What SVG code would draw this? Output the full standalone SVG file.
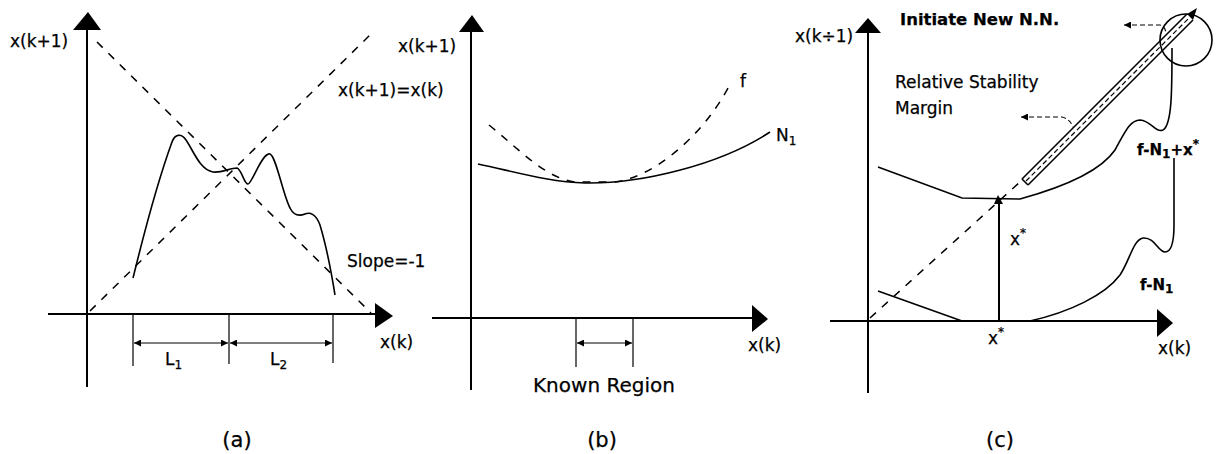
<svg xmlns="http://www.w3.org/2000/svg" width="1217" height="454" viewBox="0 0 1217 454">
<style>
text{font-family:"DejaVu Sans","Liberation Sans",sans-serif;font-size:17px;fill:#000;stroke:#000;stroke-width:0.25}
.ax{stroke:#000;stroke-width:2;fill:none}
.ln{stroke:#000;stroke-width:1.6;fill:none}
.th{stroke:#000;stroke-width:1.2;fill:none}
.ds{stroke:#000;stroke-width:1.5;fill:none;stroke-dasharray:8 8}
.ld{stroke:#000;stroke-width:1.2;fill:none;stroke-dasharray:5 3}
.hd{fill:#000;stroke:none}
.b{font-weight:bold}
.sub{font-size:12px}
.cap{font-size:21px}
</style>
<defs>
<marker id="ah" viewBox="0 0 10 10" refX="10" refY="5" markerWidth="7" markerHeight="7" orient="auto-start-reverse" markerUnits="userSpaceOnUse">
<path d="M0,0 L10,5 L0,10 z" fill="#000"/>
</marker>
</defs>
<rect width="1217" height="454" fill="#fff"/>

<!-- Panel (a) -->
<g id="panel-a">
<g id="a-axes">
<line class="ax" x1="87" y1="28" x2="87" y2="387"/>
<polygon class="hd" points="73,30 88,12 101,30"/>
<line class="ax" x1="48" y1="314" x2="376" y2="314"/>
<polygon class="hd" points="375,303 393,316 375,328"/>
</g>
<g id="a-lines">
<line class="ds" x1="90" y1="311" x2="372" y2="33"/>
<line class="ds" x1="97" y1="42" x2="371" y2="313"/>
<path class="ln" d="M133,278 L137,262 C145,230 160,175 172,142 C175,134 181,133 186,140 C193,150 200,170 213,172 C222,173 230,168 237,168 C242,170 244,184 248,184 C252,184 262,152 270,154 C276,156 283,195 290,208 C294,216 300,216 305,214 C310,212 316,214 320,225 C326,245 331,270 335,295"/>
</g>
<g id="a-dims">
<line class="th" x1="133" y1="314" x2="133" y2="366"/>
<line class="th" x1="229" y1="314" x2="229" y2="364"/>
<line class="th" x1="333" y1="314" x2="333" y2="363"/>
<line class="th" x1="134" y1="343" x2="228" y2="343" marker-start="url(#ah)" marker-end="url(#ah)"/>
<line class="th" x1="230" y1="343" x2="332" y2="343" marker-start="url(#ah)" marker-end="url(#ah)"/>
</g>
<g id="a-labels">
<text x="10" y="47">x(k+1)</text>
<text x="338" y="96">x(k+1)=x(k)</text>
<text x="347" y="267">Slope=-1</text>
<text x="380" y="348">x(k)</text>
<text x="165" y="365">L<tspan class="sub" dy="4">1</tspan></text>
<text x="270" y="365">L<tspan class="sub" dy="4">2</tspan></text>
<text x="237" y="447" text-anchor="middle" class="cap">(a)</text>
</g>
</g>

<!-- Panel (b) -->
<g id="panel-b">
<g id="b-axes">
<line class="ax" x1="471" y1="30" x2="471" y2="390"/>
<polygon class="hd" points="459,32 472,15 484,32"/>
<line class="ax" x1="432" y1="318" x2="754" y2="318"/>
<polygon class="hd" points="752,305 768,319 752,332"/>
</g>
<g id="b-curves">
<path class="ds" d="M489,125 C520,150 545,178 575,182 L615,182 C650,178 700,140 728,88"/>
<path class="ln" d="M478,164 C520,173 550,182 585,183 C640,184 720,165 770,132"/>
</g>
<g id="b-dims">
<line class="th" x1="576" y1="318" x2="576" y2="367"/>
<line class="th" x1="633" y1="318" x2="633" y2="367"/>
<line class="th" x1="577" y1="343" x2="632" y2="343" marker-start="url(#ah)" marker-end="url(#ah)"/>
</g>
<g id="b-labels">
<text x="398" y="52">x(k+1)</text>
<text x="740" y="87">f</text>
<text x="776" y="141">N<tspan class="sub" dy="4">1</tspan></text>
<text x="748" y="351">x(k)</text>
<text x="533" y="392" style="font-size:20px">Known Region</text>
<text x="602" y="447" text-anchor="middle" class="cap">(b)</text>
</g>
</g>

<!-- Panel (c) -->
<g id="panel-c">
<g id="c-axes">
<line class="ax" x1="868" y1="31" x2="868" y2="393"/>
<polygon class="hd" points="855,33 868,18 881,33"/>
<line class="ax" x1="830" y1="321" x2="1159" y2="321"/>
<polygon class="hd" points="1157,309 1173,323 1157,337"/>
</g>
<g id="c-lines">
<line class="ds" x1="870" y1="318" x2="1020" y2="182"/>
<path class="ln" d="M878,167 L962,198 L1020,199 C1060,188 1100,172 1115,150 C1125,132 1130,120 1140,120 C1152,121 1155,133 1163,130 C1172,125 1172,90 1172,48"/>
<path class="ln" d="M878,291 L962,321"/>
<path class="ln" d="M1030,321 C1070,312 1105,295 1120,275 C1130,260 1133,240 1143,238 C1155,237 1158,252 1165,252 C1172,252 1174,240 1174,225 L1174,158"/>
<line class="ax" x1="999" y1="203" x2="999" y2="321"/>
<polygon class="hd" points="994,204 998,195 1003,204"/>
</g>
<g id="c-band">
<line class="ln" x1="1022" y1="179" x2="1187" y2="14"/>
<line class="ln" x1="1028" y1="185" x2="1193" y2="20"/>
<line class="ln" x1="1022" y1="179" x2="1028" y2="185"/>
<line class="ld" x1="1026" y1="181" x2="1190" y2="17" stroke="#999"/>
<polygon class="hd" points="1187,14 1197,8 1193,20"/>
<circle class="ln" cx="1186" cy="40" r="26"/>
</g>
<g id="c-leaders">
<path class="ld" d="M1124,25 L1160,25 Q1165,26 1166,33" marker-start="url(#ah)"/>
<path class="ld" d="M1021,117 L1062,117 Q1070,119 1073,127" marker-start="url(#ah)"/>
</g>
<g id="c-labels">
<text x="795" y="42">x(k÷1)</text>
<text x="900" y="25" class="b" style="font-size:16.5px">Initiate New N.N.</text>
<text x="895" y="88">Relative Stability</text>
<text x="895" y="114">Margin</text>
<text x="1137" y="155" class="b" style="font-size:15px">f-N<tspan class="sub" dy="3">1</tspan><tspan dy="-3">+x</tspan><tspan class="sub" dy="-7">*</tspan></text>
<text x="1010" y="245">x<tspan class="sub" dy="-8">*</tspan></text>
<text x="1140" y="290" class="b" style="font-size:15px">f-N<tspan class="sub" dy="3">1</tspan></text>
<text x="988" y="344">x<tspan class="sub" dy="-8">*</tspan></text>
<text x="1158" y="354">x(k)</text>
<text x="1000" y="447" text-anchor="middle" class="cap">(c)</text>
</g>
</g>
</svg>
